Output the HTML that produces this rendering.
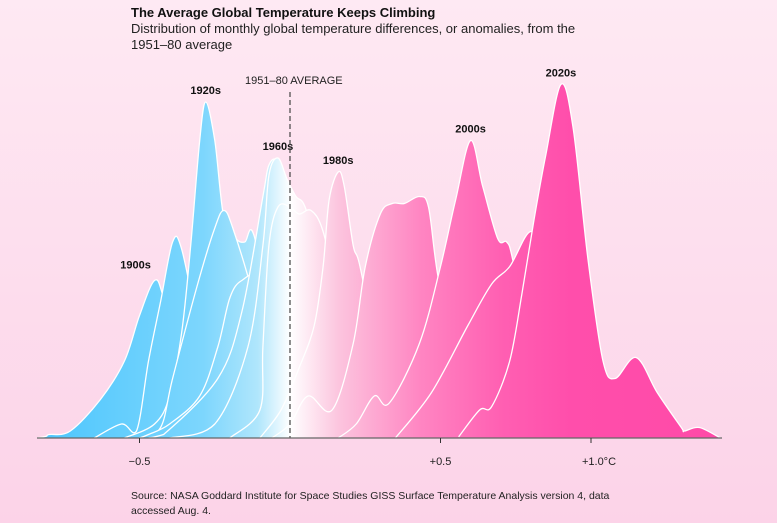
<!DOCTYPE html>
<html><head><meta charset="utf-8">
<style>
html,body{margin:0;padding:0;}
body{width:777px;height:523px;overflow:hidden;font-family:"Liberation Sans",sans-serif;background:linear-gradient(#fee9f3,#fcd3e8);position:relative;}
.title{position:absolute;left:131px;top:5px;font-size:13px;font-weight:bold;color:#111;}
.sub{position:absolute;left:131px;top:21px;font-size:13px;line-height:16px;color:#222;width:490px;}
.src{position:absolute;left:131px;top:489px;font-size:10.5px;line-height:15px;color:#222;width:520px;}
svg{position:absolute;left:0;top:0;}
</style></head>
<body>
<div class="title">The Average Global Temperature Keeps Climbing</div>
<div class="sub">Distribution of monthly global temperature differences, or anomalies, from the <span style="white-space:nowrap">1951–80</span> average</div>
<svg id="chart" width="777" height="523">
<defs>
<linearGradient id="g" gradientUnits="userSpaceOnUse" x1="40" y1="0" x2="720" y2="0">
<stop offset="0" stop-color="#4cc6fd"/>
<stop offset="0.24" stop-color="#7dd6fd"/>
<stop offset="0.32" stop-color="#b0e6fc"/>
<stop offset="0.368" stop-color="#ffffff"/>
<stop offset="0.44" stop-color="#fcc4de"/>
<stop offset="0.56" stop-color="#ff85c2"/>
<stop offset="0.68" stop-color="#ff5fb2"/>
<stop offset="0.78" stop-color="#ff4eab"/>
<stop offset="1" stop-color="#ff4aa8"/>
</linearGradient>
</defs>
<g id="curves"></g>
<g id="axis"></g>
</svg>
<div class="src">Source: NASA Goddard Institute for Space Studies GISS Surface Temperature Analysis version 4, data accessed Aug. 4.</div>
<script>
const decades = ["1900s","1910s","1920s","1930s","1940s","1950s","1960s","1970s","1980s","1990s","2000s","2010s","2020s"];
const labeled = ["1900s","1920s","1960s","1980s","2000s","2020s"];
const a1900 = [-0.84,-0.81,-0.80,-0.73,-0.63,-0.55,-0.50,-0.45,-0.42,-0.36,-0.28,-0.20];
const d1900 = [0,0.5,1,2,11,22,35,45,40,20,6,0];
const a1910 = [-0.65,-0.56,-0.51,-0.47,-0.43,-0.39,-0.36,-0.30,-0.23,-0.15];
const d1910 = [0,4,2,22,39,56,54,30,8,0];
const a1920 = [-0.55,-0.45,-0.40,-0.36,-0.33,-0.30,-0.28,-0.25,-0.22,-0.18,-0.15,-0.12,-0.05,0.05];
const d1920 = [0,4,12,30,55,85,96,85,63,57,56,58,30,0];
const a1930 = [-0.50,-0.43,-0.39,-0.31,-0.25,-0.22,-0.19,-0.12,-0.05,0.05];
const d1930 = [0,3,17,43,60,65,60,40,15,0];
const a1940 = [-0.50,-0.47,-0.40,-0.30,-0.24,-0.20,-0.16,-0.10,0.0,0.10];
const d1940 = [0,1,4,12,26,40,45,45,25,0];
const a1950 = [-0.47,-0.42,-0.24,-0.16,-0.09,-0.07,-0.04,0.0,0.05,0.12];
const d1950 = [0,1,17,36,69,78,79,70,40,0];
const a1960 = [-0.40,-0.25,-0.14,-0.09,-0.07,-0.04,-0.01,0.02,0.05,0.10,0.16,0.25];
const d1960 = [0,4,26,55,75,80,74,69,66,51,30,0];
const a1970 = [-0.20,-0.10,-0.09,-0.07,-0.04,0.0,0.03,0.07,0.11,0.16,0.22,0.30];
const d1970 = [0,8,26,55,66,66,64,65,59,40,15,0];
const a1980 = [-0.10,-0.03,0.03,0.08,0.11,0.13,0.16,0.18,0.21,0.23,0.28,0.35,0.45];
const d1980 = [0,8,20,32,49,68,76,72,55,50,30,10,0];
const a1990 = [-0.06,0.0,0.06,0.14,0.21,0.25,0.30,0.34,0.38,0.43,0.46,0.49,0.55,0.65];
const d1990 = [0,4,12,8,27,49,64,67,67,69,66,47,20,0];
const a2000 = [0.16,0.22,0.28,0.33,0.43,0.50,0.55,0.60,0.64,0.69,0.72,0.74,0.80,0.90];
const d2000 = [0,4,12,10,27,49,68,85,72,57,56,51,25,0];
const a2010 = [0.35,0.47,0.59,0.67,0.73,0.80,0.85,0.95,1.05];
const d2010 = [0,13,32,44,49,59,50,20,0];
const a2020 = [0.56,0.63,0.67,0.73,0.77,0.81,0.85,0.90,0.94,0.99,1.04,1.08,1.15,1.22,1.30,1.31,1.36,1.43];
const d2020 = [0.3,8,9,22,41,62,81,101,89,51,22,17,23,13,3,2,3,0];
const seriesA = [a1900,a1910,a1920,a1930,a1940,a1950,a1960,a1970,a1980,a1990,a2000,a2010,a2020];
const seriesD = [d1900,d1910,d1920,d1930,d1940,d1950,d1960,d1970,d1980,d1990,d2000,d2010,d2020];
const tickVals = [-0.5,0.5,1.0];
const tickLabels = ["−0.5","+0.5","+1.0°C"];

const NS="http://www.w3.org/2000/svg";
const BASE=438;
function xS(a){return 290+a*301;}
function yS(d){return BASE-d*3.5;}
function smoothPath(pts){
  let s="M"+pts[0][0].toFixed(1)+","+pts[0][1].toFixed(1);
  for(let i=0;i<pts.length-1;i++){
    const p0=pts[Math.max(0,i-1)],p1=pts[i],p2=pts[i+1],p3=pts[Math.min(pts.length-1,i+2)];
    const c1x=p1[0]+(p2[0]-p0[0])/6, c1y=Math.min(BASE,p1[1]+(p2[1]-p0[1])/6);
    const c2x=p2[0]-(p3[0]-p1[0])/6, c2y=Math.min(BASE,p2[1]-(p3[1]-p1[1])/6);
    s+=" C"+c1x.toFixed(1)+","+c1y.toFixed(1)+" "+c2x.toFixed(1)+","+c2y.toFixed(1)+" "+p2[0].toFixed(1)+","+p2[1].toFixed(1);
  }
  return s;
}
const gC=document.getElementById("curves");
seriesA.forEach((as,k)=>{
  const ds=seriesD[k];
  const pts=as.map((a,i)=>[xS(a),yS(ds[i])]);
  const p=document.createElementNS(NS,"path");
  const d=smoothPath(pts);
  p.setAttribute("d",d+" L"+pts[pts.length-1][0].toFixed(1)+","+BASE+" L"+pts[0][0].toFixed(1)+","+BASE+" Z");
  p.setAttribute("fill","url(#g)");
  
  
  gC.appendChild(p);
  const l=document.createElementNS(NS,"path");
  l.setAttribute("d",d);
  l.setAttribute("fill","none");
  l.setAttribute("stroke","#fff");
  l.setAttribute("stroke-width","1.3");
  
  
  gC.appendChild(l);
});
const gA=document.getElementById("axis");
function add(tag,attrs,text){const e=document.createElementNS(NS,tag);for(const k in attrs)e.setAttribute(k,attrs[k]);if(text!==undefined)e.textContent=text;gA.appendChild(e);return e;}
seriesA.forEach((as,k)=>{
  if(labeled.indexOf(decades[k])<0)return;
  const ds=seriesD[k];let mi=0;ds.forEach((v,i)=>{if(v>ds[mi])mi=i;});
  let lx=xS(as[mi]), ly=yS(ds[mi])-8;
  if(decades[k]==="1900s"){lx-=19;ly-=4;}
  const t=add("text",{x:lx,y:ly,"text-anchor":"middle","font-size":"11","font-weight":"bold",fill:"#111","font-family":"Liberation Sans, sans-serif"},decades[k]);
  
  
});
const ref=add("line",{x1:xS(0),x2:xS(0),y1:92,y2:BASE,stroke:"#444","stroke-width":"1.2","stroke-dasharray":"5,3"});


const rl=add("text",{x:245,y:84,"font-size":"11",fill:"#222","font-family":"Liberation Sans, sans-serif"},"1951–80 AVERAGE");


const ax=add("line",{x1:37,x2:722,y1:BASE,y2:BASE,stroke:"#666","stroke-width":"1.3"});


tickVals.forEach((v,i)=>{
  const tk=add("line",{x1:xS(v),x2:xS(v),y1:BASE,y2:BASE+5,stroke:"#333","stroke-width":"1"});
  
  
  const tl=add("text",{x:xS(v)+(i===2?8:0),y:465,"text-anchor":"middle","font-size":"11",fill:"#222","font-family":"Liberation Sans, sans-serif"},tickLabels[i]);
  
  
});
</script>
</body></html>
